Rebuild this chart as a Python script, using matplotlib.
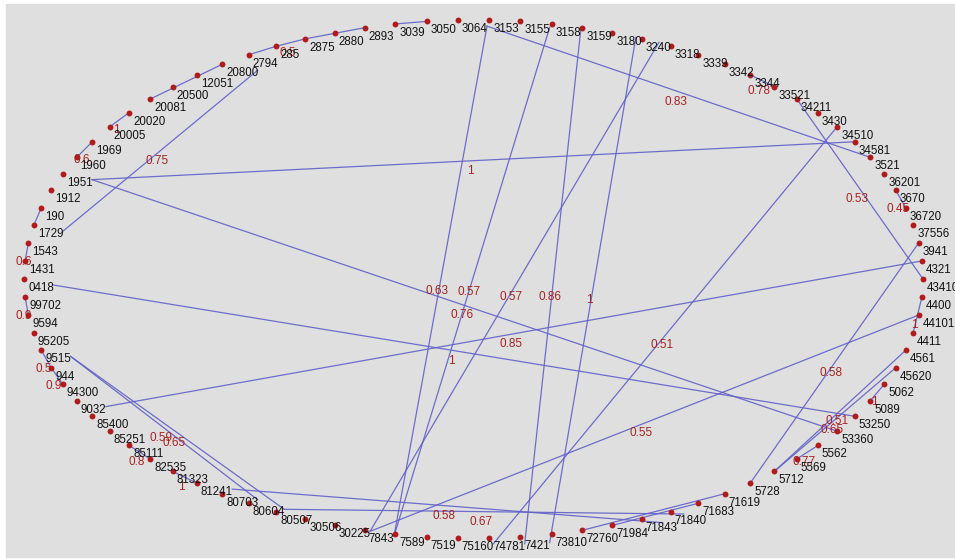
import numpy as np
import matplotlib.pyplot as plt
from matplotlib.patches import Rectangle

# node labels, in order round the ring (starting at the left, going clockwise)
NODES = ["0418", "1431", "1543", "1729", "190", "1912", "1951", "1960", "1969", "20005",
         "20020", "20081", "20500", "12051", "20800", "2794", "285", "2875", "2880", "2893",
         "3039", "3050", "3064", "3153", "3155", "3158", "3159", "3180", "3240", "3318",
         "3339", "3342", "3344", "33521", "34211", "3430", "34510", "34581", "3521", "36201",
         "3670", "36720", "37556", "3941", "4321", "43410", "4400", "44101", "4411", "4561",
         "45620", "5062", "5089", "53250", "53360", "5562", "5569", "5712", "5728", "71619",
         "71683", "71840", "71843", "71984", "72760", "73810", "7421", "74781", "75160", "7519",
         "7589", "7843", "30225", "30506", "80507", "80604", "80703", "81241", "81323", "82535",
         "85111", "85251", "85400", "9032", "94300", "944", "9515", "95205", "9594", "99702"]

# edges across the ring (source, target, weight)
LONG_EDGES = [("1951", "34581", "1"), ("1951", "53360", "0.76"), ("0418", "53250", "1"),
              ("9032", "4321", "0.85"), ("1729", "20800", "0.75"), ("9515", "80703", "0.59"),
              ("9515", "80604", "0.65"), ("81241", "71843", "0.58"), ("80604", "71840", "0.67"),
              ("30225", "44101", "0.55"), ("30225", "3240", "0.57"), ("3064", "7843", "0.63"),
              ("3155", "7843", "0.57"), ("3158", "74781", "0.86"), ("3180", "7421", "1"),
              ("75160", "34510", "0.51"), ("3064", "3521", "0.83"), ("34211", "43410", "0.53"),
              ("5728", "3941", "0.58"), ("4561", "5712", "0.51"), ("45620", "5712", "0.65")]

# short edges between neighbours on the ring
RIM_EDGES = [("1960", "1969", "0.6"), ("20005", "20020", "1"), ("20081", "20800", ""),
             ("190", "1729", ""), ("1431", "1543", "0.6"), ("99702", "9594", "0.9"),
             ("9515", "944", "0.5"), ("944", "94300", "0.9"), ("85111", "82535", "0.8"),
             ("81323", "81241", "1"), ("2794", "285", ""), ("285", "2875", "0.5"),
             ("2875", "2893", ""), ("3039", "3050", ""), ("3344", "33521", "0.78"),
             ("3670", "36720", "0.45"), ("4400", "4411", "1"), ("5062", "5089", "1"),
             ("5562", "5569", "0.77"), ("72760", "71619", ""), ("71984", "71683", "")]

W, H = 955, 560
CX, CY, RX, RY = 473.5, 279.0, 449.5, 259.0
EDGE_COL = "#6060c8"
WEIGHT_COL = "#a82222"
DOT_COL = "#b01c1c"
FONT = "Liberation Sans"

fig = plt.figure(figsize=(W / 100, H / 100), dpi=100, facecolor="white")
ax = fig.add_axes([0, 0, 1, 1])
ax.set_xlim(0, W)
ax.set_ylim(H, 0)
ax.axis("off")
ax.add_patch(Rectangle((6, 4), W - 6, H - 7, color="#dfdfdf", zorder=0))

# circular layout (in pixel units)
n = len(NODES)
theta = np.deg2rad(180 - 360 * np.arange(n) / n)
px = CX + RX * np.cos(theta)
py = CY - RY * np.sin(theta)
idx = {name: i for i, name in enumerate(NODES)}

# long edges attach at the end of the label, except on the right side
shift = np.clip((0.55 - np.cos(theta)) / 0.3, 0, 1)
lab_w = np.array([4 + 6.3 * len(s) for s in NODES])
anc_x = px + shift * lab_w
anc_y = py + shift * 6


def draw_edge(x0, y0, x1, y1, w):
    ax.plot([x0, x1], [y0, y1], color=EDGE_COL, lw=0.9, alpha=0.9, zorder=1)
    if w:
        ax.text((x0 + x1) / 2 - 3, (y0 + y1) / 2 + 10, w, color=WEIGHT_COL,
                fontsize=8.5, family=FONT, ha="center", va="center", zorder=2)


for a, b, w in LONG_EDGES:
    i, j = idx[a], idx[b]
    draw_edge(anc_x[i], anc_y[i], anc_x[j], anc_y[j], w)

for a, b, w in RIM_EDGES:
    i, j = idx[a], idx[b]
    draw_edge(px[i], py[i], px[j], py[j], w)

ax.scatter(px, py, s=18, color=DOT_COL, zorder=3, linewidths=0)

for i, name in enumerate(NODES):
    ax.text(px[i] + 4, py[i] + 9, name, fontsize=8.3, family=FONT, color="#111111",
            ha="left", va="center", zorder=4)

fig.savefig("out.png", dpi=100, facecolor=fig.get_facecolor())
